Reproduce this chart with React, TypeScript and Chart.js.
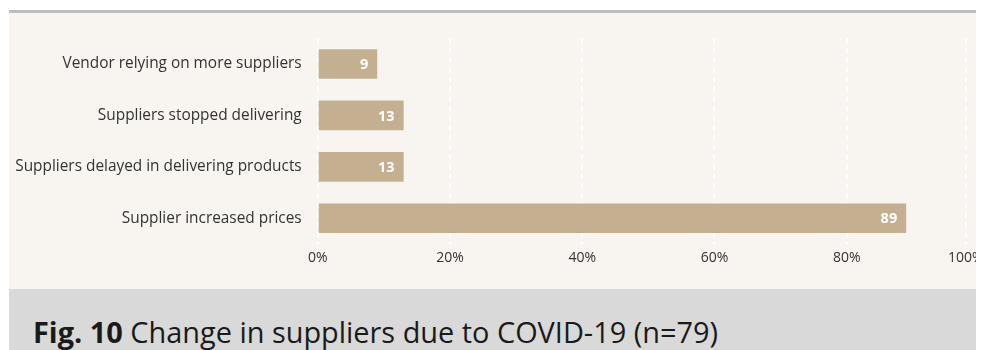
import React, { useEffect, useRef } from "react";
import { Chart, registerables } from "chart.js";

Chart.register(...registerables);

const categories = [
  "Vendor relying on more suppliers",
  "Suppliers stopped delivering",
  "Suppliers delayed in delivering products",
  "Supplier increased prices",
];
const values = [9, 13, 13, 89];
const xTickValues = [0, 20, 40, 60, 80, 98];
const xTickLabels = ["0%", "20%", "40%", "60%", "80%", "100%"];
const xMax = 98;
const caption = "Change in suppliers due to COVID-19 (n=79)";
const captionPrefix = "Fig. 10";

const FONT = "'Open Sans', 'Noto Sans', sans-serif";

const valueLabelPlugin = {
  id: "valueLabels",
  afterDatasetsDraw(chart: any) {
    const ctx = chart.ctx;
    const meta = chart.getDatasetMeta(0);
    ctx.save();
    ctx.fillStyle = "#ffffff";
    ctx.font = `bold 14.5px ${FONT}`;
    ctx.textAlign = "right";
    ctx.textBaseline = "middle";
    meta.data.forEach((el: any, i: number) => {
      ctx.fillText(String(values[i]), el.x - 9, el.y + 1);
    });
    ctx.restore();
  },
};

export default function App() {
  const ref = useRef<HTMLCanvasElement | null>(null);
  useEffect(() => {
    if (!ref.current) return;
    const chart = new Chart(ref.current, {
      type: "bar",
      data: {
        labels: categories,
        datasets: [
          {
            data: values,
            backgroundColor: "#c4af91",
            borderWidth: 0,
            barPercentage: 0.575,
            categoryPercentage: 1,
          },
        ],
      },
      options: {
        indexAxis: "y",
        animation: false,
        responsive: true,
        maintainAspectRatio: false,
        layout: { padding: { top: 23, right: 18.3, bottom: 0, left: 0 } },
        plugins: {
          legend: { display: false },
          tooltip: { enabled: false },
        },
        scales: {
          x: {
            min: 0,
            max: xMax,
            afterBuildTicks: (scale: any) => {
              scale.ticks = xTickValues.map((v) => ({ value: v }));
            },
            afterFit: (scale: any) => {
              scale.height = 45;
              scale.paddingRight = 0;
              scale.paddingLeft = 0;
            },
            grid: {
              color: "#ffffff",
              lineWidth: 2,
              drawTicks: false,
            },
            border: { display: false, dash: [5, 4.7] },
            ticks: {
              padding: 6,
              color: "#333333",
              font: { family: FONT, size: 14 },
              callback: (_v: any, i: number) => xTickLabels[i],
            },
          },
          y: {
            afterFit: (scale: any) => {
              scale.width = 308.7;
            },
            grid: { display: false, drawTicks: false },
            border: { display: false },
            ticks: {
              padding: 16,
              color: "#333333",
              font: { family: FONT, size: 15.4 },
            },
          },
        },
      },
      plugins: [valueLabelPlugin],
    });
    return () => chart.destroy();
  }, []);

  return (
    <div style={{ marginLeft: 1, marginTop: 2, width: 975, fontFamily: FONT }}>
      <div
        style={{
          borderTop: "3px solid #bdbdbd",
          background: "#f8f5f0",
          height: 276,
          position: "relative",
        }}
      >
        <canvas ref={ref} />
      </div>
      <div
        style={{
          background: "#d9d9d9",
          height: 70,
          paddingLeft: 24,
          paddingTop: 28,
          boxSizing: "border-box",
          fontSize: 28.9,
          lineHeight: "30px",
          color: "#1a1a1a",
          whiteSpace: "nowrap",
        }}
      >
        <b>{captionPrefix}</b> {caption}
      </div>
    </div>
  );
}
